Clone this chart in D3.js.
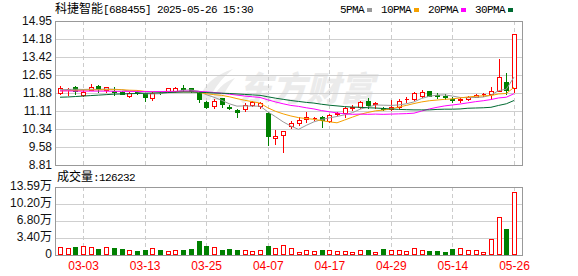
<!DOCTYPE html>
<html>
<head>
<meta charset="utf-8">
<script src="https://cdn.jsdelivr.net/npm/d3@7.9.0/dist/d3.min.js"></script>
<style>
  html, body { margin: 0; padding: 0; background: #fff; }
  svg { display: block; }
</style>
</head>
<body>
<svg id="chart" width="578" height="276"></svg>
<script>
// ---- data ----
const stockName = '科捷智能';
const stockCode = '688455';
const stamp = '2025-05-26 15:30';

const dates = ['02-26','02-27','02-28','03-03','03-04','03-05','03-06','03-07','03-10','03-11',
  '03-12','03-13','03-14','03-17','03-18','03-19','03-20','03-21','03-24','03-25',
  '03-26','03-27','03-28','03-31','04-01','04-02','04-03','04-07','04-08','04-09',
  '04-10','04-11','04-14','04-15','04-16','04-17','04-18','04-21','04-22','04-23',
  '04-24','04-25','04-28','04-29','04-30','05-06','05-07','05-08','05-09','05-12',
  '05-13','05-14','05-15','05-16','05-19','05-20','05-21','05-22','05-23','05-26'];

const open = [11.88,12.04,12.15,11.80,12.01,12.19,12.01,11.97,11.94,11.75,
  11.94,11.87,11.65,11.90,11.97,11.98,12.09,12.08,11.86,11.51,
  11.34,11.65,11.30,11.15,11.20,11.37,11.34,11.03,9.98,10.08,
  10.49,10.60,10.79,10.80,10.87,10.69,11.00,11.03,11.26,11.27,
  11.55,11.43,11.25,11.20,11.30,11.61,11.62,11.75,11.96,11.80,
  11.74,11.64,11.60,11.61,11.72,11.82,11.82,11.97,12.36,12.08];
const high = [12.16,12.11,12.18,11.99,12.25,12.22,12.15,12.15,11.95,11.92,
  11.97,11.90,11.93,11.93,12.11,12.14,12.22,12.09,11.88,11.54,
  11.61,11.67,11.35,11.18,11.45,11.52,11.50,11.05,10.29,10.28,
  10.69,10.86,11.08,10.87,10.89,10.97,11.08,11.27,11.37,11.52,
  11.65,11.50,11.29,11.58,11.61,11.70,11.94,12.01,11.98,11.87,
  11.84,11.70,11.67,11.75,11.82,11.89,12.15,13.32,12.72,14.41];
const low = [11.84,11.80,11.84,11.77,11.99,11.93,11.93,11.80,11.82,11.69,
  11.84,11.55,11.58,11.84,11.94,11.94,11.98,11.94,11.51,11.24,
  11.23,11.30,11.19,10.84,11.13,11.34,11.22,9.66,9.70,9.36,
  10.37,10.52,10.66,10.73,10.44,10.64,10.94,10.87,11.16,11.24,
  11.24,11.24,11.15,11.16,11.18,11.51,11.58,11.70,11.74,11.66,
  11.61,11.51,11.51,11.58,11.70,11.75,11.62,11.95,11.84,11.94];
const close = [12.09,12.06,11.98,11.94,12.15,12.04,12.12,11.93,11.84,11.89,
  11.90,11.70,11.89,11.86,12.08,12.11,12.05,11.97,11.61,11.30,
  11.55,11.40,11.24,11.09,11.37,11.48,11.44,10.03,10.05,10.26,
  10.59,10.73,10.86,10.83,10.73,10.94,11.03,11.23,11.29,11.48,
  11.37,11.46,11.18,11.28,11.54,11.64,11.87,11.91,11.76,11.77,
  11.71,11.59,11.62,11.72,11.80,11.84,11.97,12.57,12.01,14.41];
const volume = [16600,14600,16600,18600,16600,12600,15400,14600,12000,10000,
  8000,10000,13400,10000,7400,10000,10000,12600,28000,18600,
  15400,10000,12000,10000,10000,7400,10000,18600,13400,19000,
  14300,6000,10000,8700,10700,10000,8700,8700,6700,10000,
  10700,6700,12700,10000,10000,8700,14000,10700,8700,8700,
  6700,12700,14000,10000,10000,6700,31400,75300,52000,126232];

const ma5 = [12.02,12.03,12.04,12.03,12.04,12.03,12.05,12.04,12.02,11.96,
  11.94,11.85,11.84,11.85,11.89,11.93,12.00,12.01,11.96,11.81,
  11.70,11.57,11.42,11.32,11.33,11.32,11.32,11.08,10.87,10.65,
  10.47,10.33,10.50,10.65,10.75,10.82,10.88,10.95,11.04,11.19,
  11.28,11.37,11.36,11.35,11.37,11.42,11.50,11.65,11.74,11.79,
  11.80,11.75,11.69,11.68,11.69,11.71,11.79,11.98,12.04,12.56];
const ma10 = [11.97,11.98,11.99,12.00,12.01,12.01,12.02,12.02,12.02,12.00,
  11.99,11.95,11.94,11.93,11.93,11.93,11.93,11.93,11.91,11.85,
  11.81,11.78,11.72,11.64,11.57,11.51,11.45,11.25,11.10,10.99,
  10.90,10.83,10.79,10.76,10.70,10.65,10.61,10.73,10.85,10.97,
  11.05,11.12,11.15,11.20,11.28,11.35,11.43,11.50,11.55,11.58,
  11.61,11.63,11.67,11.71,11.74,11.76,11.77,11.84,11.86,12.12];
const ma20 = [11.97,11.97,11.96,11.96,11.96,11.96,11.96,11.95,11.95,11.95,
  11.95,11.94,11.94,11.94,11.95,11.95,11.96,11.96,11.95,11.93,
  11.90,11.87,11.83,11.79,11.75,11.72,11.69,11.59,11.50,11.42,
  11.35,11.31,11.25,11.20,11.13,11.08,11.03,10.99,10.97,10.98,
  10.97,10.98,10.97,10.98,10.99,11.00,11.02,11.11,11.20,11.27,
  11.33,11.37,11.41,11.46,11.51,11.55,11.60,11.67,11.70,11.85];
const ma30 = [11.70,11.71,11.73,11.75,11.77,11.79,11.81,11.83,11.84,11.85,
  11.86,11.87,11.88,11.89,11.90,11.91,11.92,11.92,11.91,11.90,
  11.88,11.87,11.86,11.84,11.82,11.80,11.78,11.72,11.66,11.61,
  11.56,11.52,11.48,11.45,11.40,11.36,11.33,11.30,11.28,11.27,
  11.25,11.24,11.22,11.20,11.18,11.17,11.16,11.16,11.16,11.18,
  11.19,11.19,11.20,11.23,11.24,11.25,11.27,11.35,11.42,11.56];

const maNames = ['5PMA','10PMA','20PMA','30PMA'];
const priceTicks = [14.95,14.18,13.42,12.65,11.88,11.11,10.34,9.58,8.81];
const volTicks = [135900,102000,68000,34000,0];
const volTickLabels = ['13.59万','10.20万','6.80万','3.40万','0'];
const tickDates = ['03-03','03-13','03-25','04-07','04-17','04-29','05-14','05-26'];
const lastVolume = 126232;

// ---- layout ----
const left = 55, right = 522;
const mainTop = 21, mainBot = 165, volTop = 187, volBot = 255;
const red = '#ff0000', green = '#008000';
const maColors = ['#999999','#f5a000','#ff00ff','#006a32'];
const numFont = '"Liberation Sans","Noto Sans CJK SC",sans-serif';
const monoFont = '"Liberation Mono","Noto Sans CJK SC",monospace';
const cjkFont = '"Noto Sans CJK SC",sans-serif';

const svg = d3.select('#chart');

const x = d3.scalePoint().domain(dates).range([60, 514]);
const y = d3.scaleLinear().domain([8.81, 14.95]).range([mainBot, mainTop]);
const yv = d3.scaleLinear().domain([0, 135900]).range([volBot, volTop]);

// watermark
const wm = svg.append('g').attr('fill', '#ebebeb');
wm.append('path').attr('d', 'M199,100 C203,86 214,75 233,69 C221,79 213,89 210,100 Z');
wm.append('path').attr('d', 'M212,100 C216,90 224,82 235,78 C228,86 224,93 222,100 Z');
wm.append('text').attr('x', 238).attr('y', 101)
  .attr('font-family', cjkFont).attr('font-weight', 900).attr('font-style', 'italic')
  .attr('font-size', 34).text('东方财富');

// grids
const grid = svg.append('g').attr('shape-rendering', 'crispEdges');
grid.selectAll('line.hp').data(priceTicks.slice(1, -1)).join('line')
  .attr('x1', left).attr('x2', right)
  .attr('y1', d => Math.round(y(d)) + 0.5).attr('y2', d => Math.round(y(d)) + 0.5)
  .attr('stroke', '#cfcfcf');
grid.selectAll('line.hv').data(volTicks.slice(1, -1)).join('line')
  .attr('x1', left).attr('x2', right)
  .attr('y1', d => Math.round(yv(d)) + 0.5).attr('y2', d => Math.round(yv(d)) + 0.5)
  .attr('stroke', '#cfcfcf');
[[mainTop, mainBot], [volTop, volBot]].forEach(([t, b]) => {
  grid.selectAll(null).data(tickDates).join('line')
    .attr('x1', d => Math.round(x(d)) + 0.5).attr('x2', d => Math.round(x(d)) + 0.5)
    .attr('y1', t).attr('y2', b)
    .attr('stroke', '#cccccc').attr('stroke-dasharray', '4,3');
});

// frames
grid.append('rect').attr('x', left + 0.5).attr('y', mainTop + 0.5)
  .attr('width', right - left).attr('height', mainBot - mainTop)
  .attr('fill', 'none').attr('stroke', '#999');
grid.append('rect').attr('x', left + 0.5).attr('y', volTop + 0.5)
  .attr('width', right - left).attr('height', volBot - volTop)
  .attr('fill', 'none').attr('stroke', '#999');

// candles
const data = dates.map((d, i) => ({ d, o: open[i], h: high[i], l: low[i], c: close[i], v: volume[i] }));
const up = k => k.c >= k.o;
const px = k => Math.round(x(k.d));

const cg = svg.append('g').attr('shape-rendering', 'crispEdges');
cg.selectAll('line').data(data).join('line')
  .attr('x1', k => px(k) + 0.5).attr('x2', k => px(k) + 0.5)
  .attr('y1', k => Math.round(y(k.h))).attr('y2', k => Math.round(y(k.l)) + 1)
  .attr('stroke', k => up(k) ? red : green);
cg.selectAll('path').data(data).join('path')
  .attr('d', k => {
    const x0 = px(k) - 1.5, x1 = px(k) + 2.5;
    const t = Math.round(y(Math.max(k.o, k.c))) + 0.5;
    const b = Math.round(y(Math.min(k.o, k.c))) + 0.5;
    return `M${x0},${t}H${x1}V${b}H${x0}Z`;
  })
  .attr('fill', k => up(k) ? '#fff' : green)
  .attr('stroke', k => up(k) ? red : green);

// moving averages
const line = d3.line().x((v, i) => x(dates[i])).y(v => y(v));
[ma5, ma10, ma20, ma30].forEach((s, idx) => {
  svg.append('path').attr('d', line(s))
    .attr('fill', 'none').attr('stroke', maColors[idx]).attr('stroke-width', 1);
});

// volume bars
const vg = svg.append('g').attr('shape-rendering', 'crispEdges');
vg.selectAll('path').data(data).join('path')
  .attr('d', k => {
    const x0 = px(k) - 1.5, x1 = px(k) + 2.5;
    const t = Math.round(yv(k.v)) + 0.5;
    return `M${x0},${t}H${x1}V${volBot - 0.5}H${x0}Z`;
  })
  .attr('fill', k => up(k) ? '#fff' : green)
  .attr('stroke', k => up(k) ? red : green);

// axis labels
svg.append('g').selectAll('text').data(priceTicks).join('text')
  .attr('x', 52).attr('y', d => y(d)).attr('dy', '0.36em')
  .attr('text-anchor', 'end').attr('font-family', numFont).attr('font-size', 12)
  .attr('fill', '#111').text(d => d.toFixed(2));
svg.append('g').selectAll('text').data(volTicks).join('text')
  .attr('x', 52).attr('y', d => yv(d)).attr('dy', '0.25em')
  .attr('text-anchor', 'end').attr('font-family', numFont).attr('font-size', 12)
  .attr('fill', '#111').text((d, i) => volTickLabels[i]);
svg.append('g').selectAll('text').data(tickDates).join('text')
  .attr('x', d => x(d) + 0.5).attr('y', 270)
  .attr('text-anchor', 'middle').attr('font-family', numFont).attr('font-size', 12)
  .attr('fill', red).text(d => d);

// header
const title = svg.append('text').attr('x', 55).attr('y', 13).attr('fill', '#000');
title.append('tspan').attr('font-family', cjkFont).attr('font-size', 12).text(stockName);
title.append('tspan').attr('font-family', monoFont).attr('font-size', 11)
  .attr('letter-spacing', -0.6).text(`[${stockCode}] ${stamp}`);

// legend
let lx = 340;
maNames.forEach((name, idx) => {
  const t = svg.append('text').attr('x', lx).attr('y', 13)
    .attr('font-family', monoFont).attr('font-size', 11).attr('letter-spacing', -0.6)
    .attr('fill', '#000').text(name);
  const w = name.length * 6;
  svg.append('rect').attr('x', lx + w + 3).attr('y', 8).attr('width', 5).attr('height', 4)
    .attr('fill', maColors[idx]);
  lx += w + 3 + 5 + 9;
});

// volume caption
const cap = svg.append('text').attr('x', 57).attr('y', 181).attr('fill', '#000');
cap.append('tspan').attr('font-family', cjkFont).attr('font-size', 12).text('成交量');
cap.append('tspan').attr('font-family', monoFont).attr('font-size', 11)
  .attr('letter-spacing', -0.6).text(':' + lastVolume);
</script>
</body>
</html>
